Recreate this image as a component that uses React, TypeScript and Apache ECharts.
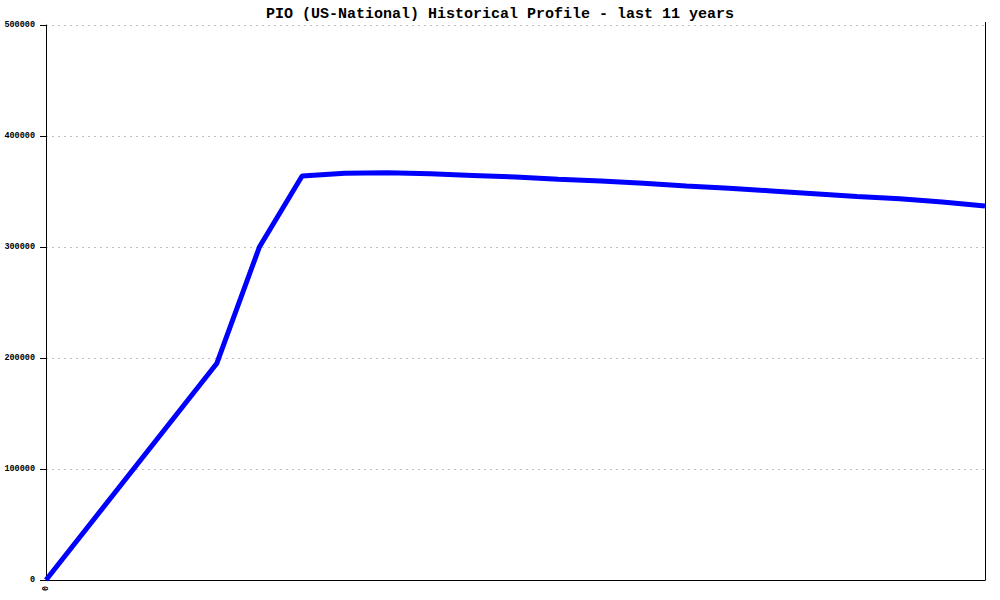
import React, { useEffect, useRef } from "react";
import * as echarts from "echarts";

const TITLE = "PIO (US-National) Historical Profile - last 11 years";
const xIndex = [0, 4, 5, 6, 7, 8, 9, 10, 11, 12, 13, 14, 15, 16, 17, 18, 19, 20, 21, 22];
const values = [0, 195000, 300000, 364000, 366500, 367000, 366000, 364500, 363000, 361000, 359500, 357500, 355000, 353000, 350500, 348000, 345500, 343500, 340500, 337000];
const yTicks = [0, 100000, 200000, 300000, 400000, 500000];

export default function App() {
  const ref = useRef<HTMLDivElement>(null);
  useEffect(() => {
    const chart = echarts.init(ref.current!, null, { renderer: "svg" });
    const font = "'Liberation Mono', 'DejaVu Sans Mono', monospace";
    chart.setOption({
      animation: false,
      backgroundColor: "#ffffff",
      title: {
        text: TITLE,
        left: "center",
        top: 2,
        textStyle: { fontFamily: font, fontSize: 15, fontWeight: "bold", color: "#000" },
      },
      grid: { left: 46, right: 15, top: 25, bottom: 20, containLabel: false },
      graphic: [
        { type: "line", shape: { x1: 985.5, y1: 22, x2: 985.5, y2: 26 }, style: { stroke: "#000", lineWidth: 1 } },
      ],
      xAxis: {
        type: "value",
        min: 0,
        max: 22,
        interval: 22,
        axisLine: { show: true, lineStyle: { color: "#000", width: 1 } },
        axisTick: { show: false },
        splitLine: { show: false },
        axisLabel: {
          rotate: 90,
          fontFamily: font,
          fontSize: 8.5,
          fontWeight: "bold",
          color: "#000",
          margin: 6,
          formatter: (v: number) => (v === 0 ? "0" : ""),
        },
      },
      yAxis: [
        {
          type: "value",
          min: yTicks[0],
          max: yTicks[yTicks.length - 1],
          interval: 100000,
          axisLine: { show: true, lineStyle: { color: "#000", width: 1 } },
          axisTick: { show: true, length: 6, lineStyle: { color: "#000" } },
          axisLabel: {
            fontFamily: font,
            fontSize: 8.5,
            fontWeight: "bold",
            color: "#000",
            margin: 11,
            formatter: (v: number) => String(v),
          },
          splitLine: { show: true, lineStyle: { color: "#c0c0c0", type: [2, 4], width: 1 } },
        },
        {
          type: "value",
          position: "right",
          min: yTicks[0],
          max: yTicks[yTicks.length - 1],
          interval: 100000,
          axisLine: { show: true, lineStyle: { color: "#000", width: 1 } },
          axisTick: { show: false },
          axisLabel: { show: false },
          splitLine: { show: false },
        },
      ],
      series: [
        {
          type: "line",
          data: xIndex.map((x, i) => [x, values[i]]),
          showSymbol: false,
          symbol: "none",
          lineStyle: { color: "#0000ff", width: 5 },
        },
      ],
    });
    return () => chart.dispose();
  }, []);
  return (
    <div
      ref={ref}
      style={{ position: "fixed", left: 0, top: 0, width: 1000, height: 600, background: "#fff" }}
    />
  );
}
